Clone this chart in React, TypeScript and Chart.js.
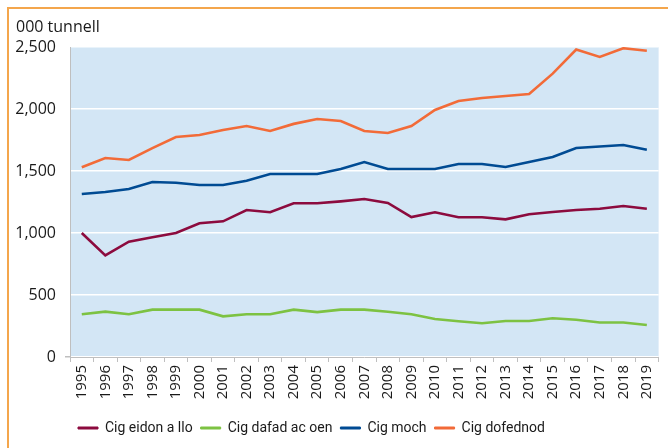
import React, { useEffect, useRef } from "react";
import { Chart, registerables } from "chart.js";

Chart.register(...registerables);

const years = ["1995","1996","1997","1998","1999","2000","2001","2002","2003","2004","2005","2006","2007","2008","2009","2010","2011","2012","2013","2014","2015","2016","2017","2018","2019"];

const beef = [1000, 820, 930, 965, 1000, 1078, 1094, 1185, 1167, 1240, 1240, 1255, 1274, 1242, 1129, 1167, 1127, 1127, 1110, 1151, 1169, 1185, 1196, 1218, 1196];
const sheep = [345, 366, 345, 382, 382, 382, 328, 345, 345, 382, 362, 382, 382, 365, 345, 306, 288, 272, 290, 290, 312, 300, 278, 278, 258];
const pig = [1315, 1331, 1355, 1411, 1405, 1387, 1387, 1422, 1476, 1476, 1476, 1516, 1572, 1516, 1516, 1516, 1556, 1556, 1532, 1572, 1613, 1685, 1697, 1710, 1672];
const poultry = [1530, 1605, 1589, 1685, 1774, 1790, 1830, 1863, 1823, 1880, 1919, 1903, 1823, 1806, 1863, 1992, 2065, 2089, 2105, 2121, 2285, 2480, 2420, 2490, 2470];

const seriesNames = ["Cig eidon a llo", "Cig dafad ac oen", "Cig moch", "Cig dofednod"];
const seriesColors = ["#8C0B3E", "#7DC242", "#004B93", "#F26B38"];
const yTitle = "000 tunnell";

const bgPlugin = {
  id: "plotBg",
  beforeDraw(chart: any) {
    const { ctx, chartArea } = chart;
    if (!chartArea) return;
    ctx.save();
    ctx.fillStyle = "#D3E6F5";
    ctx.fillRect(chartArea.left, chartArea.top, chartArea.right - chartArea.left, chartArea.bottom - chartArea.top);
    ctx.restore();
  },
};

const unitPlugin = {
  id: "unitTitle",
  afterDraw(chart: any) {
    const { ctx } = chart;
    ctx.save();
    ctx.fillStyle = "#1a1a1a";
    ctx.font = "16px 'Open Sans'";
    ctx.textAlign = "left";
    ctx.textBaseline = "middle";
    ctx.fillText(yTitle, 16, 27.5);
    ctx.restore();
  },
};

export default function App() {
  const ref = useRef<HTMLCanvasElement | null>(null);

  useEffect(() => {
    if (!ref.current) return;
    const allSeries = [beef, sheep, pig, poultry];
    const chart = new Chart(ref.current, {
      type: "line",
      data: {
        labels: years,
        datasets: allSeries.map((d, i) => ({
          label: seriesNames[i],
          data: d,
          borderColor: seriesColors[i],
          backgroundColor: seriesColors[i],
          borderWidth: 2.6,
          pointRadius: 0,
          tension: 0,
          fill: false,
        })),
      },
      options: {
        responsive: false,
        animation: false,
        locale: "en-US",
        layout: { padding: { left: 16, right: 8, top: 47, bottom: 3 } },
        plugins: {
          title: { display: false },
          legend: {
            position: "bottom",
            fullSize: false,
            align: "start",
            labels: {
              color: "#1a1a1a",
              font: { family: "Roboto", size: 14 },
              boxWidth: 20,
              boxHeight: 2,
              padding: 8,
              generateLabels: (c: any) =>
                Chart.defaults.plugins.legend.labels.generateLabels(c).map((l: any) => ({ ...l, lineWidth: 1 })),
            },
          },
          tooltip: { enabled: false },
        },
        scales: {
          x: {
            type: "category",
            offset: true,
            afterFit: (s: any) => { s.height = 56; },
            grid: {
              offset: true,
              drawOnChartArea: false,
              drawTicks: true,
              tickLength: 5,
              color: "#BFBFBF",
            },
            border: { display: true, color: "#BFBFBF", width: 1 },
            ticks: {
              minRotation: 90,
              maxRotation: 90,
              autoSkip: false,
              padding: 3,
              color: "#1a1a1a",
              font: { family: "'Open Sans'", size: 15 },
            },
          },
          y: {
            min: 0,
            max: 2500,
            afterFit: (s: any) => { s.width = 54; },
            grid: {
              color: "#FFFFFF",
              lineWidth: 1.5,
              drawTicks: true,
              tickLength: 5,
              tickColor: (ctx: any) => (ctx.tick && ctx.tick.value === 0 ? "#BFBFBF" : "rgba(0,0,0,0)"),
            },
            border: { display: true, color: "#BFBFBF", width: 1 },
            ticks: {
              stepSize: 500,
              padding: 9,
              color: "#1a1a1a",
              font: { family: "'Open Sans'", size: 16 },
            },
          },
        },
      },
      plugins: [bgPlugin, unitPlugin],
    } as any);
    return () => chart.destroy();
  }, []);

  return (
    <div style={{ position: "fixed", left: 0, top: 0, width: 668, height: 448, background: "#fff", overflow: "hidden" }}>
      <div
        style={{
          position: "absolute",
          left: 7,
          top: 7,
          width: 700,
          height: 480,
          borderTop: "2px solid #F4A64C",
          borderLeft: "2px solid #F4A64C",
          boxSizing: "border-box",
        }}
      />
      <canvas ref={ref} width={668} height={448} style={{ position: "absolute", left: 0, top: 0 }} />
    </div>
  );
}
